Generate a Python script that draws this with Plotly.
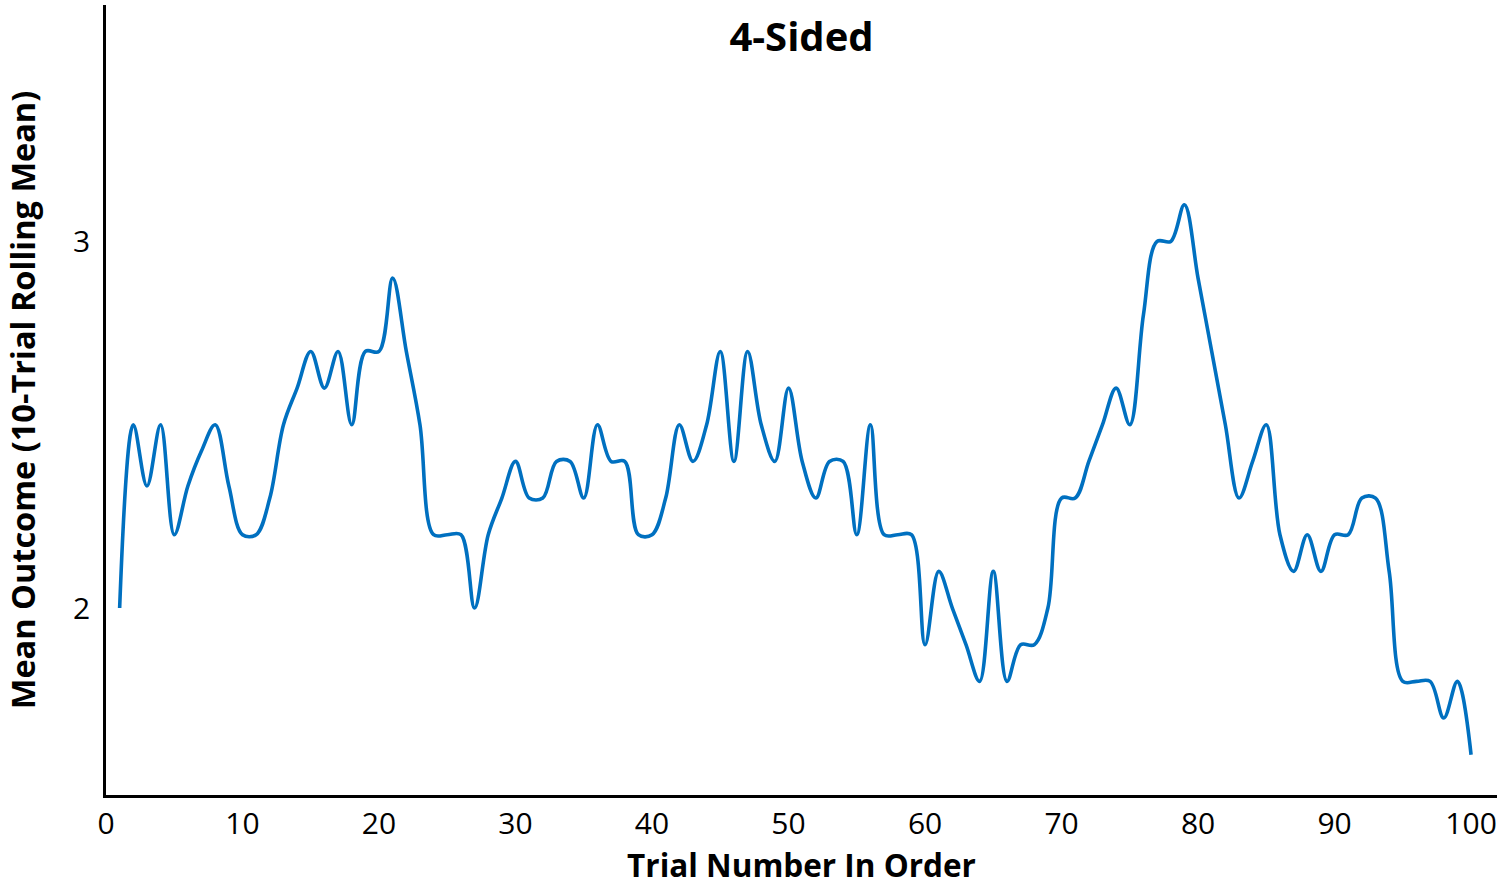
import plotly.graph_objects as go

# Data
trials = list(range(1, 101))
rolling_mean = [
    2.0, 2.5, 2.333, 2.5, 2.2, 2.333, 2.429, 2.5, 2.333, 2.2,
    2.2, 2.3, 2.5, 2.6, 2.7, 2.6, 2.7, 2.5, 2.7, 2.7,
    2.9, 2.7, 2.5, 2.2, 2.2, 2.2, 2.0, 2.2, 2.3, 2.4,
    2.3, 2.3, 2.4, 2.4, 2.3, 2.5, 2.4, 2.4, 2.2, 2.2,
    2.3, 2.5, 2.4, 2.5, 2.7, 2.4, 2.7, 2.5, 2.4, 2.6,
    2.4, 2.3, 2.4, 2.4, 2.2, 2.5, 2.2, 2.2, 2.2, 1.9,
    2.1, 2.0, 1.9, 1.8, 2.1, 1.8, 1.9, 1.9, 2.0, 2.3,
    2.3, 2.4, 2.5, 2.6, 2.5, 2.8, 3.0, 3.0, 3.1, 2.9,
    2.7, 2.5, 2.3, 2.4, 2.5, 2.2, 2.1, 2.2, 2.1, 2.2,
    2.2, 2.3, 2.3, 2.1, 1.8, 1.8, 1.8, 1.7, 1.8, 1.6,
]
x_ticks = [0, 10, 20, 30, 40, 50, 60, 70, 80, 90, 100]
y_ticks = [2, 3]

title_text = "4-Sided"
x_title = "Trial Number In Order"
y_title = "Mean Outcome (10-Trial Rolling Mean)"

FONT = "Open Sans"

fig = go.Figure()
fig.add_trace(go.Scatter(
    x=trials, y=rolling_mean, mode="lines",
    line=dict(color="#0070C0", width=3.6, shape="spline", smoothing=1.0),
    showlegend=False, hoverinfo="x+y",
))

fig.update_layout(
    width=1511, height=888,
    paper_bgcolor="white", plot_bgcolor="white",
    margin=dict(l=106, r=14, t=5, b=93),
    font=dict(family=FONT, color="black"),
    title=dict(text="<b>" + title_text + "</b>", x=0.5, xref="paper",
               y=1 - 37 / 888, yref="container", yanchor="middle", xanchor="center",
               font=dict(family=FONT, size=40, color="black")),
)

fig.update_xaxes(
    range=[0, 101.9], tickvals=x_ticks, ticktext=[str(v) for v in x_ticks],
    showgrid=False, zeroline=False, showline=True, linecolor="black", linewidth=2.5,
    ticks="", tickfont=dict(family=FONT, size=30, color="black"),
    title=dict(text="<b>" + x_title + "</b>", standoff=8,
               font=dict(family=FONT, size=31.5, color="black")),
)
fig.update_yaxes(
    range=[1.49, 3.645], tickvals=y_ticks, ticktext=[str(v) for v in y_ticks],
    showgrid=False, zeroline=False, showline=True, linecolor="black", linewidth=2.5,
    ticks="", ticklabelstandoff=7, tickfont=dict(family=FONT, size=30, color="black"),
    title=dict(text="<b>" + y_title + "</b>", standoff=30,
               font=dict(family=FONT, size=32.5, color="black")),
)

fig.write_html("out.html", config={"displayModeBar": False},
               post_script="document.body.style.margin='0';")
